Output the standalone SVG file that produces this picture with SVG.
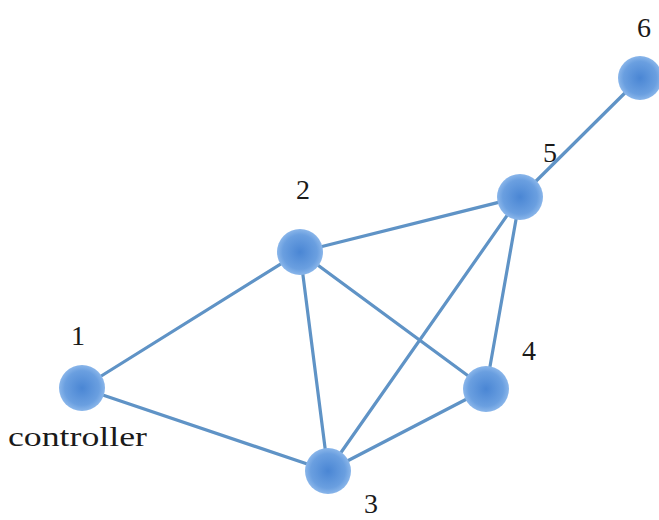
<svg xmlns="http://www.w3.org/2000/svg" width="659" height="520" viewBox="0 0 659 520">
<defs>
<radialGradient id="g" cx="50%" cy="50%" r="50%">
<stop offset="0%" stop-color="#4a86d4"/>
<stop offset="75%" stop-color="#6a9fe0"/>
<stop offset="100%" stop-color="#8ab6ea"/>
</radialGradient>
<style>
.e{stroke:#5f93c6;stroke-width:3.2;fill:none;stroke-linecap:round}
.n{fill:url(#g)}
.t{font-family:"Liberation Serif","DejaVu Serif",serif;font-size:28px;fill:#1a1a1a;text-anchor:middle}
.c{font-family:"Liberation Serif","DejaVu Serif",serif;font-size:27px;fill:#1a1a1a}
</style>
</defs>
<rect width="659" height="520" fill="#ffffff"/>
<g id="connectors">
<line class="e" x1="82" y1="388" x2="300" y2="252"/>
<line class="e" x1="82" y1="388" x2="328" y2="471"/>
<line class="e" x1="300" y1="252" x2="328" y2="471"/>
<line class="e" x1="300" y1="252" x2="486" y2="389"/>
<line class="e" x1="300" y1="252" x2="520" y2="197"/>
<line class="e" x1="328" y1="471" x2="486" y2="389"/>
<line class="e" x1="328" y1="471" x2="520" y2="197"/>
<line class="e" x1="486" y1="389" x2="520" y2="197"/>
<line class="e" x1="520" y1="197" x2="640" y2="78"/>
</g>
<g id="node1"><circle class="n" cx="82" cy="388" r="23"/><text class="t" x="78" y="345">1</text><text class="c" x="8" y="446" textLength="139" lengthAdjust="spacingAndGlyphs">controller</text></g>
<g id="node2"><circle class="n" cx="300" cy="252" r="23"/><text class="t" x="303" y="199">2</text></g>
<g id="node3"><circle class="n" cx="328" cy="471" r="23"/><text class="t" x="371" y="513">3</text></g>
<g id="node4"><circle class="n" cx="486" cy="389" r="23"/><text class="t" x="529" y="360">4</text></g>
<g id="node5"><circle class="n" cx="520" cy="197" r="23"/><text class="t" x="550" y="162">5</text></g>
<g id="node6"><circle class="n" cx="640" cy="78" r="22"/><text class="t" x="644" y="37">6</text></g>
</svg>
